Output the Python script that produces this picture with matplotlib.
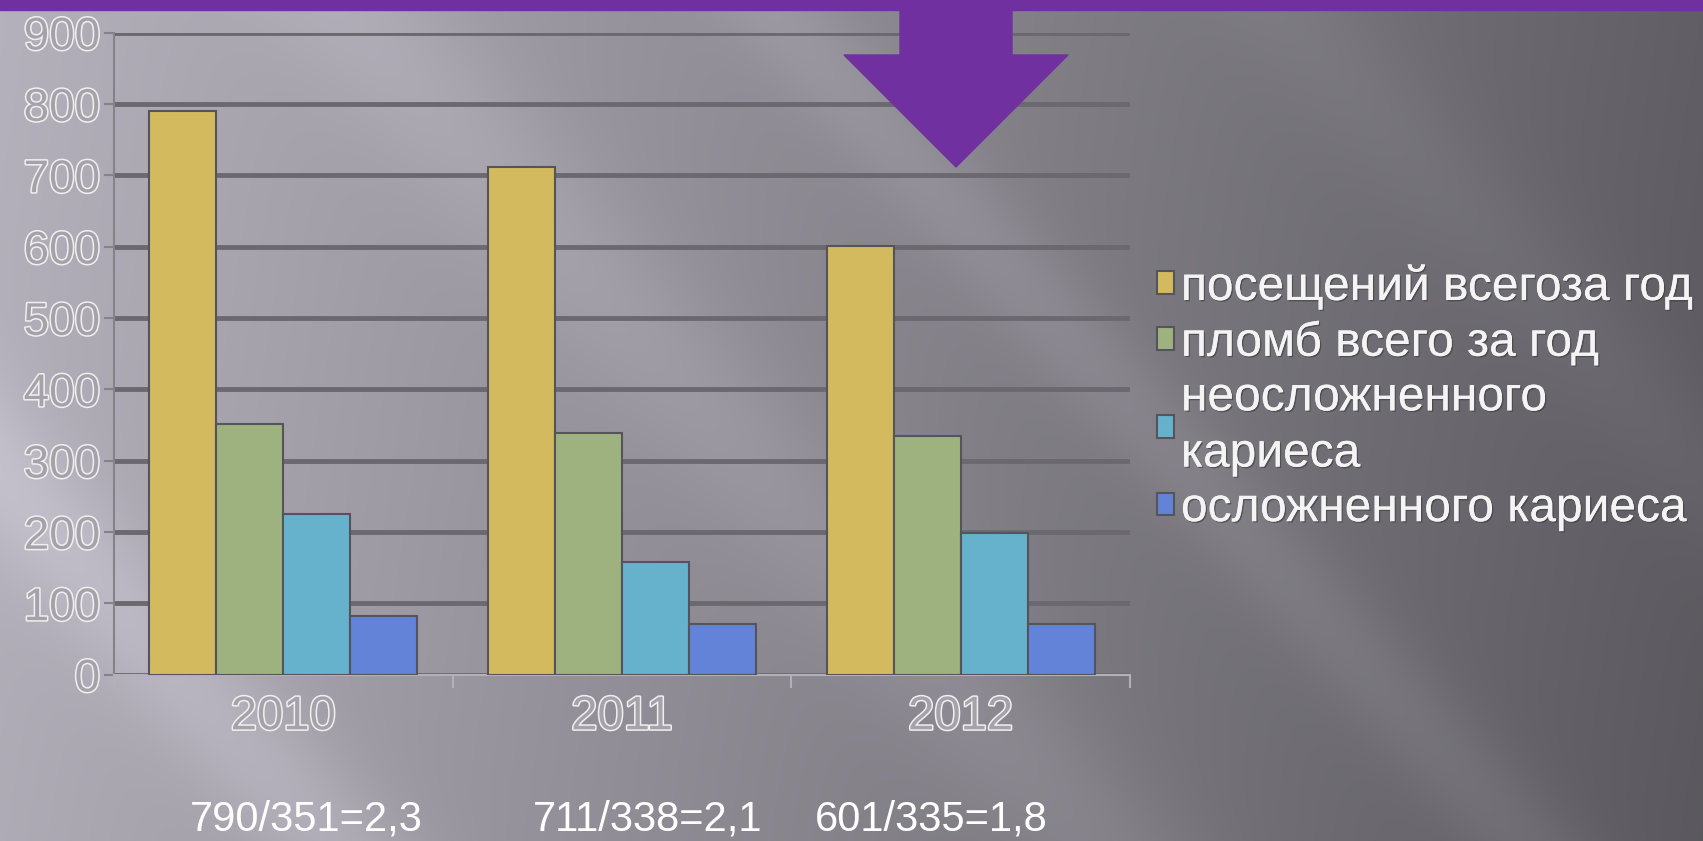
import numpy as np
import matplotlib
matplotlib.use("Agg")
import matplotlib.pyplot as plt
import matplotlib.patheffects as pe
from matplotlib.patches import Rectangle, Polygon

plt.rcParams['font.family'] = ['Liberation Sans', 'DejaVu Sans']

# данные
years = ['2010', '2011', '2012']
series_names = ['посещений всегоза год', 'пломб всего за год',
                'неосложненного\nкариеса', 'осложненного кариеса']
visits = [790, 711, 601]
fillings = [351, 338, 335]
uncomplicated = [225, 158, 199]
complicated = [82, 71, 71]
ratios = ['790/351=2,3', '711/338=2,1', '601/335=1,8']
series = [visits, fillings, uncomplicated, complicated]
colors = ['#d3ba5f', '#9db27f', '#66b1cb', '#6283d8']

W, H = 1703, 841
fig = plt.figure(figsize=(W / 100, H / 100), dpi=100)

# фон: серый градиент с диагональными бликами
bg = fig.add_axes([0, 0, 1, 1], zorder=-5)
yy, xx = np.mgrid[0:H, 0:W] / float(W)
val = 0.71 - 0.33 * xx - 0.05 * yy
u = xx - 0.9 * yy
for c, a, s in [(-0.25, 0.07, 0.05), (0.2, 0.05, 0.06), (0.45, 0.05, 0.04), (0.75, 0.03, 0.05)]:
    val = val + a * np.exp(-((u - c) / s) ** 2)
rgb = np.dstack([val * 1.0, val * 0.98, val * 1.04]).clip(0, 1)
bg.imshow(rgb, aspect='auto', extent=[0, 1, 0, 1])
bg.axis('off')

# верхняя фиолетовая полоса и стрелка
purple = '#7030a0'
fig.patches.append(Rectangle((0, 1 - 10 / H), 1, 10 / H, transform=fig.transFigure,
                             color=purple, zorder=3))
arrow_px = [(900, 5), (1012, 5), (1012, 55), (1068, 55), (956, 167), (844, 55), (900, 55)]
fig.patches.append(Polygon([(x / W, 1 - y / H) for x, y in arrow_px], closed=True,
                           transform=fig.transFigure, color=purple, zorder=3))

# основная диаграмма
x0, x1, y0, y1 = 114, 1130, 674.5, 32.5
ax = fig.add_axes([x0 / W, 1 - y0 / H, (x1 - x0) / W, (y0 - y1) / H])
ax.set_facecolor('none')

x = np.arange(len(years))
w = 0.198
for i, vals in enumerate(series):
    ax.bar(x + (i - 1.5) * w, vals, w, color=colors[i], edgecolor='#55545a',
           linewidth=1.5, label=series_names[i], zorder=3)

ax.set_xlim(-0.5, 2.5)
ax.set_ylim(0, 900)
ax.set_yticks(range(0, 901, 100))
ax.yaxis.grid(True, color='#6c6870', linewidth=3.5, zorder=0)
ax.set_axisbelow(True)

for s in ['top', 'right']:
    ax.spines[s].set_visible(False)
ax.spines['left'].set_color('#86828a')
ax.spines['left'].set_linewidth(1.5)
ax.spines['bottom'].set_color('#b4b0b8')
ax.spines['bottom'].set_linewidth(1.5)

outline = [pe.withStroke(linewidth=2.2, foreground='#f0f0f0')]
ax.tick_params(axis='y', length=7, width=1.5, color='#86828a', pad=3)
ax.set_xticks(x)
ax.set_xticklabels(years)
ax.set_xticks([-0.5, 0.5, 1.5, 2.5], minor=True)
ax.tick_params(axis='x', which='major', length=0, pad=15)
ax.tick_params(axis='x', which='minor', length=9, width=1.5, color='#b4b0b8')
for lab in ax.get_yticklabels():
    lab.set_fontsize(33)
for lab in ax.get_xticklabels():
    lab.set_fontsize(34)
for lab in ax.get_yticklabels() + ax.get_xticklabels():
    lab.set_color('#a6a2aa')
    lab.set_path_effects(outline)

# легенда
leg = fig.legend(loc='upper left', bbox_to_anchor=(1157 / W, 1 - 264 / H),
                 frameon=False, fontsize=34.5, labelcolor='#f4f4f4',
                 handlelength=0.35, handleheight=0.35, handletextpad=0.15,
                 labelspacing=0.2, borderpad=0, borderaxespad=0)
for t in leg.get_texts():
    t.set_linespacing(1.32)
    t.set_path_effects([pe.withSimplePatchShadow(offset=(1, -1), shadow_rgbFace='#3a3a3a', alpha=0.6),
                        pe.Normal()])

# подписи отношений
for txt, px in zip(ratios, [190, 533, 815]):
    fig.text(px / W, 1 - 820 / H, txt, fontsize=30, color='white', va='center', ha='left')

fig.savefig('out.png', dpi=100)
